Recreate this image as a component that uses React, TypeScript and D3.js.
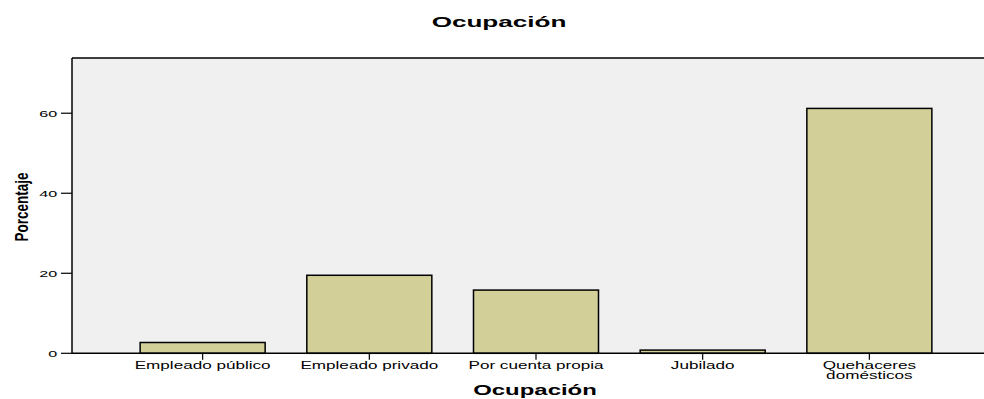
import React from 'react';
import * as d3 from 'd3';

const categories = ['Empleado público', 'Empleado privado', 'Por cuenta propia', 'Jubilado', 'Quehaceres domésticos'];
const categoryLines = [['Empleado público'], ['Empleado privado'], ['Por cuenta propia'], ['Jubilado'], ['Quehaceres', 'domésticos']];
const percentages = [2.7, 19.5, 15.8, 0.8, 61.2];
const yTicks = [0, 20, 40, 60];

const W = 984;
const H = 399;
const plotLeft = 72;
const plotTop = 58;
const plotBottom = 353.3;
// the source picture has wide, stretched lettering
const stretch = 1.63;

const App = () => {
    const y = d3.scaleLinear().domain([0, 73.8]).range([plotBottom, plotTop]);
    const x = d3.scaleBand<string>().domain(categories).range([119.3, 952.7]).paddingInner(0.25).paddingOuter(0.125);
    const font = '"Liberation Sans", Arial, sans-serif';

    return (
        <svg width={W} height={H} style={{ position: 'absolute', left: 0, top: 0 }} fontFamily={font}>
            <rect x={0} y={0} width={W} height={H} fill="#ffffff" />
            <text transform={`translate(499,27) scale(1.74,1)`} textAnchor="middle" fontSize={15} fontWeight="bold" fill="#000">Ocupación</text>

            {/* plot background */}
            <rect x={plotLeft} y={plotTop} width={W - plotLeft + 10} height={plotBottom - plotTop} fill="#f0f0f0" />
            <line x1={plotLeft} x2={W} y1={plotTop} y2={plotTop} stroke="#000" strokeWidth={1.5} />

            {/* bars */}
            {categories.map((c, i) => (
                <rect key={c}
                    x={x(c)}
                    y={y(percentages[i])}
                    width={x.bandwidth()}
                    height={plotBottom - y(percentages[i])}
                    fill="#d3cf99"
                    stroke="#000"
                    strokeWidth={1.5} />
            ))}

            {/* axes */}
            <line x1={plotLeft} x2={plotLeft} y1={plotTop} y2={plotBottom} stroke="#000" strokeWidth={1.5} />
            <line x1={plotLeft} x2={W} y1={plotBottom} y2={plotBottom} stroke="#000" strokeWidth={1.5} />

            {yTicks.map(t => (
                <g key={t}>
                    <line x1={plotLeft - 11} x2={plotLeft} y1={y(t)} y2={y(t)} stroke="#000" strokeWidth={1.2} />
                    <text transform={`translate(${plotLeft - 14.7},${y(t) + 3.6}) scale(1.7,1)`} textAnchor="end" fontSize={9.5} fill="#000">{t}</text>
                </g>
            ))}

            {categories.map((c, i) => {
                const cx = (x(c) ?? 0) + x.bandwidth() / 2;
                return (
                    <g key={c}>
                        <line x1={cx} x2={cx} y1={plotBottom} y2={plotBottom + 6.5} stroke="#000" strokeWidth={1.2} />
                        {categoryLines[i].map((ln, j) => (
                            <text key={ln} transform={`translate(${cx},${369 + j * 9.8}) scale(${stretch},1)`}
                                textAnchor="middle" fontSize={10.5} fill="#000">{ln}</text>
                        ))}
                    </g>
                );
            })}

            <text transform="translate(535,395) scale(1.71,1)" textAnchor="middle" fontSize={14} fontWeight="bold" fill="#000">Ocupación</text>
            <text transform="translate(28,207) rotate(-90) scale(0.71,1)" textAnchor="middle" fontSize={19} fontWeight="bold" fill="#000">Porcentaje</text>
        </svg>
    );
};

export default App;
